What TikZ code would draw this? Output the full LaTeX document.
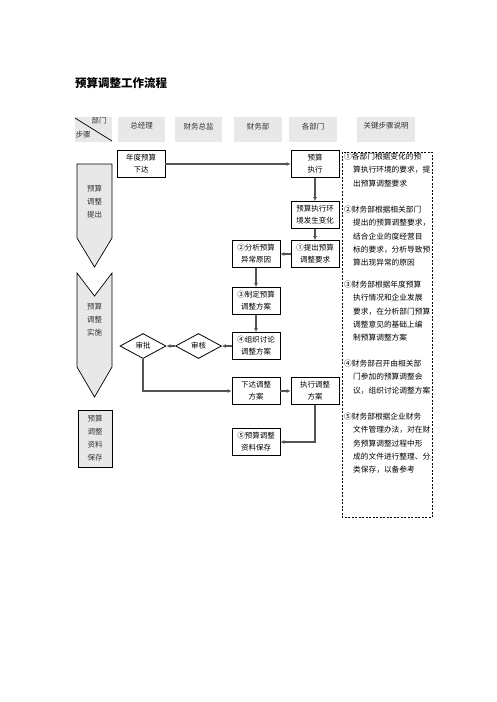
\documentclass[tikz,border=0pt]{standalone}
\usepackage{fontspec}
\setmainfont{Noto Sans CJK SC}
\usepackage{tikz}
\usetikzlibrary{shapes.geometric,arrows.meta}
\definecolor{head-gray}{RGB}{232,232,232}
\definecolor{flow-gray}{RGB}{85,85,85}

\tikzset{
  stepbox/.style={draw, line width=0.8pt, minimum width=48pt, minimum height=27pt,
    inner sep=1pt, align=center, font=\fontsize{7.5}{12}\selectfont},
  checkbox/.style={diamond, draw, line width=0.8pt, minimum width=46pt, minimum height=25pt,
    inner sep=0pt, font=\fontsize{7.5}{9}\selectfont},
  headtext/.style={font=\fontsize{7.5}{9}\selectfont, text=black!80, inner sep=0pt},
  phasetext/.style={align=center, font=\fontsize{7.5}{13}\selectfont, text=black!80, inner sep=0pt},
  note/.style={anchor=north west, align=left, inner sep=0pt, font=\fontsize{7.7}{13.2}\selectfont},
  flow/.style={draw=flow-gray, line width=1.2pt, -{Latex[length=4pt,width=4pt]}},
}

\begin{document}
\begin{tikzpicture}[x=1pt,y=-1pt]
    \useasboundingbox (0,0) rectangle (496,702);

    \node[anchor=west, inner sep=0pt, font=\fontsize{11.5}{14}\bfseries] (title) at (75,83) {预算调整工作流程};

    % header row
    \fill[head-gray] (75,117) rectangle (112,142);
    \draw[line width=0.7pt] (75,118) -- (112,141);
    \node[headtext] (hDept) at (99,121) {部门};
    \node[headtext] (hStep) at (83,135) {步骤};
    \fill[head-gray] (118,117) rectangle (165,142);
    \node[headtext] (hGM) at (141.5,126) {总经理};
    \fill[head-gray] (175,117) rectangle (222,142);
    \node[headtext] (hCFO) at (198.5,127) {财务总监};
    \fill[head-gray] (234,117) rectangle (282,142);
    \node[headtext] (hFin) at (258,127) {财务部};
    \fill[head-gray] (289,117) rectangle (337,142);
    \node[headtext] (hAll) at (313,127) {各部门};
    \fill[head-gray] (357,117) rectangle (415,142);
    \node[headtext] (hKey) at (386,126) {关键步骤说明};

    % phases
    \filldraw[fill=head-gray, line width=0.7pt] (77,164) -- (112,164) -- (112,238) -- (94.5,267) -- (77,238) -- cycle;
    \node[phasetext] (pRaise) at (94.5,202) {预算\\调整\\提出};
    \filldraw[fill=head-gray, line width=0.7pt] (77,273) -- (94.5,296) -- (112,273) -- (112,367) -- (94.5,397) -- (77,367) -- cycle;
    \node[phasetext] (pDo) at (94.5,320) {预算\\调整\\实施};
    \filldraw[fill=head-gray, line width=0.7pt] (78,410) rectangle (112,467);
    \node[phasetext] (pKeep) at (95,438.5) {预算\\调整\\资料\\保存};

    % steps
    \node[stepbox] (nianDu) at (141,164) {年度预算\\下达};
    \node[stepbox] (zhiXingYS) at (315,164) {预算\\执行};
    \node[stepbox] (huanJing) at (315,215) {预算执行环\\境发生变化};
    \node[stepbox] (tiChu) at (315,254) {①提出预算\\调整要求};
    \node[stepbox] (fenXi) at (256,254) {②分析预算\\异常原因};
    \node[stepbox] (zhiDing) at (256,301) {③制定预算\\调整方案};
    \node[stepbox] (zuZhi) at (256,346) {④组织讨论\\调整方案};
    \node[checkbox] (shenHe) at (198.5,346) {审核};
    \node[checkbox] (shenPi) at (143,346) {审批};
    \node[stepbox] (xiaDa) at (256,391) {下达调整\\方案};
    \node[stepbox] (zhiXingTZ) at (315,391) {执行调整\\方案};
    \node[stepbox] (baoCun) at (256,442) {⑤预算调整\\资料保存};

    \draw[flow] (nianDu) -- (zhiXingYS);
    \draw[flow] (zhiXingYS) -- (huanJing);
    \draw[flow] (huanJing) -- (tiChu);
    \draw[flow] (tiChu) -- (fenXi);
    \draw[flow] (fenXi) -- (zhiDing);
    \draw[flow] (zhiDing) -- (zuZhi);
    \draw[flow] (zuZhi) -- (shenHe);
    \draw[flow] (shenHe) -- (shenPi);
    \draw[flow] (shenPi.south) |- (xiaDa.west);
    \draw[flow] (xiaDa) -- (zhiXingTZ);
    \draw[flow] (zhiXingTZ.south) |- (baoCun.east);

    % key step notes
    \draw[dash pattern=on 2pt off 1.5pt, line width=0.8pt] (342,152) rectangle (432,517);
    \node[note] (note1) at (344,153) {①各部门根据变化的预\\
        \hspace*{9pt}算执行环境的要求，提\\
        \hspace*{9pt}出预算调整要求};
    \node[note] (note2) at (344,206) {②财务部根据相关部门\\
        \hspace*{9pt}提出的预算调整要求，\\
        \hspace*{9pt}结合企业的度经营目\\
        \hspace*{9pt}标的要求，分析导致预\\
        \hspace*{9pt}算出现异常的原因};
    \node[note] (note3) at (344,281) {③财务部根据年度预算\\
        \hspace*{9pt}执行情况和企业发展\\
        \hspace*{9pt}要求，在分析部门预算\\
        \hspace*{9pt}调整意见的基础上编\\
        \hspace*{9pt}制预算调整方案};
    \node[note] (note4) at (344,360) {④财务部召开由相关部\\
        \hspace*{9pt}门参加的预算调整会\\
        \hspace*{9pt}议，组织讨论调整方案};
    \node[note] (note5) at (344,413) {⑤财务部根据企业财务\\
        \hspace*{9pt}文件管理办法，对在财\\
        \hspace*{9pt}务预算调整过程中形\\
        \hspace*{9pt}成的文件进行整理、分\\
        \hspace*{9pt}类保存，以备参考};
\end{tikzpicture}
\end{document}
